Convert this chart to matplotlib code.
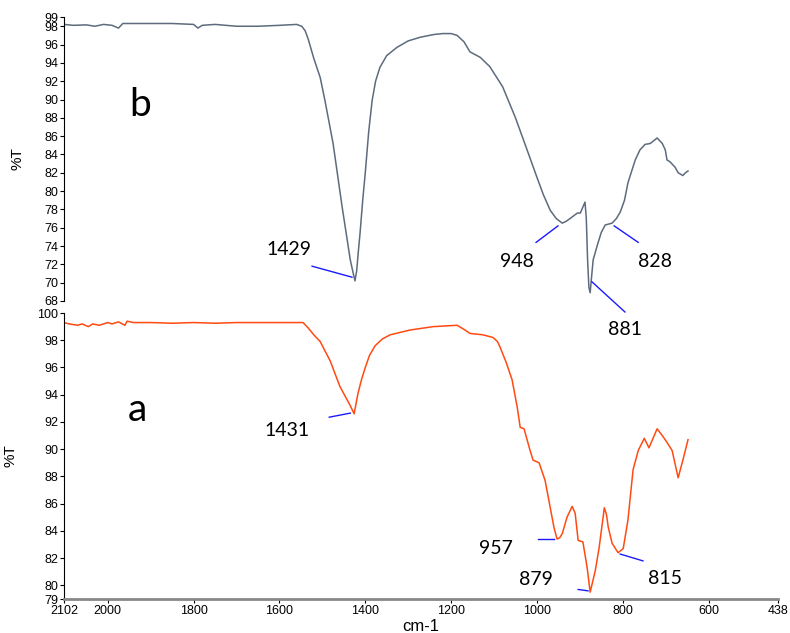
from matplotlib import pyplot as plt

# spectrum b (top)
wn_b = [2102, 2080, 2050, 2030, 2010, 1990, 1975, 1965, 1940, 1900, 1850, 1800, 1790, 1780,
        1750, 1700, 1650, 1600, 1560, 1548, 1540, 1533, 1520, 1505, 1494, 1475, 1454, 1435,
        1428, 1424, 1420, 1416, 1412, 1406, 1400, 1392, 1384, 1376, 1366, 1350, 1326, 1300,
        1272, 1240, 1219, 1200, 1186, 1170, 1156, 1132, 1110, 1080, 1050, 1023, 1000, 985,
        969, 955, 941, 932, 923, 906, 899, 888, 885, 882, 879, 876, 872, 869, 858, 850, 841,
        825, 815, 806, 796, 788, 771, 760, 748, 736, 720, 708, 701, 697, 690, 678, 671, 660,
        654, 648]
t_b = [98.2, 98.1, 98.15, 98.0, 98.2, 98.1, 97.8, 98.3, 98.3, 98.3, 98.3, 98.2, 97.8, 98.1,
       98.2, 98.0, 98.0, 98.1, 98.2, 98.0, 97.5, 96.6, 94.5, 92.4, 89.9, 85.2, 78.3, 72.5,
       71.0, 70.2, 71.3, 73.5, 75.5, 79.0, 82.0, 86.5, 89.9, 92.0, 93.5, 94.8, 95.7, 96.4,
       96.8, 97.1, 97.2, 97.2, 97.0, 96.3, 95.2, 94.6, 93.6, 91.4, 88.0, 84.5, 81.5, 79.6,
       77.9, 77.0, 76.5, 76.7, 77.0, 77.6, 77.6, 78.8, 77.0, 72.5, 69.5, 68.9, 71.0, 72.5,
       74.3, 75.5, 76.3, 76.5, 77.0, 77.7, 79.0, 80.9, 83.4, 84.5, 85.1, 85.2, 85.8, 85.2,
       84.5, 83.4, 83.2, 82.6, 82.0, 81.7, 82.0, 82.2]

# spectrum a (bottom)
wn_a = [2102, 2090, 2070, 2060, 2045, 2035, 2020, 2000, 1990, 1975, 1960, 1955, 1940, 1900,
        1850, 1800, 1750, 1700, 1650, 1600, 1545, 1533, 1520, 1505, 1482, 1459, 1435, 1426,
        1417, 1408, 1400, 1390, 1377, 1360, 1342, 1296, 1242, 1186, 1170, 1156, 1126, 1102,
        1092, 1086, 1072, 1058, 1046, 1039, 1030, 1016, 1009, 995, 981, 969, 960, 953, 947,
        941, 930, 918, 911, 904, 893, 883, 876, 870, 864, 855, 843, 838, 834, 825, 811, 799,
        788, 776, 764, 750, 739, 720, 708, 697, 685, 671, 660, 648]
t_a = [99.3, 99.2, 99.1, 99.2, 99.0, 99.2, 99.1, 99.3, 99.2, 99.35, 99.1, 99.4, 99.3, 99.3,
       99.25, 99.3, 99.25, 99.3, 99.3, 99.3, 99.3, 98.9, 98.4, 97.9, 96.5, 94.6, 93.2, 92.6,
       94.1, 95.2, 96.0, 96.9, 97.6, 98.1, 98.4, 98.75, 99.0, 99.1, 98.8, 98.5, 98.4, 98.2,
       97.9, 97.5, 96.4, 95.1, 93.1, 91.6, 91.5, 89.9, 89.2, 89.0, 87.7, 85.7, 84.2, 83.4,
       83.5, 83.8, 85.0, 85.8, 85.3, 83.3, 83.2, 81.3, 79.5, 80.3, 81.1, 82.8, 85.7, 85.2,
       84.3, 83.1, 82.4, 82.7, 84.8, 88.5, 89.9, 90.8, 90.1, 91.5, 91.0, 90.5, 89.9, 87.9,
       89.2, 90.7]

xticks = [2102, 2000, 1800, 1600, 1400, 1200, 1000, 800, 600, 438]
yticks_b = [68, 70, 72, 74, 76, 78, 80, 82, 84, 86, 88, 90, 92, 94, 96, 98, 99]
yticks_a = [79, 80, 82, 84, 86, 88, 90, 92, 94, 96, 98, 100]

# peak labels: (text, text x, text y, line start, line end)
labels_b = [("1429", 1578, 73.6, (1524, 71.8), (1431, 70.6)),
            ("948", 1046, 72.3, (1002, 74.4), (951, 76.2)),
            ("828", 725, 72.3, (820, 76.2), (764, 74.4)),
            ("881", 795, 64.9, (872, 70.1), (795, 66.8))]
labels_a = [("1431", 1582, 91.4, (1484, 92.35), (1435, 92.65)),
            ("957", 1095, 82.7, (997, 83.4), (960, 83.4)),
            ("879", 1002, 80.4, (904, 79.7), (881, 79.6)),
            ("815", 701, 80.5, (806, 82.3), (753, 81.8))]

plt.rcParams['font.family'] = ['Liberation Sans', 'DejaVu Sans']

fig = plt.figure(figsize=(7.9, 6.33), dpi=100)
ax_b = fig.add_axes([0.081, 0.5245, 0.904, 0.4485])
ax_a = fig.add_axes([0.081, 0.0537, 0.904, 0.4518])
ax_b.set_zorder(2)
ax_b.patch.set_alpha(0)

ax_b.plot(wn_b, t_b, color='#5d6b7d', lw=1.1)
ax_a.plot(wn_a, t_a, color='#ff4a12', lw=1.1)

for ax, yt in ((ax_b, yticks_b), (ax_a, yticks_a)):
    ax.set_xlim(2102, 438)
    ax.set_ylim(yt[0], yt[-1])
    ax.set_yticks(yt)
    ax.set_yticklabels([str(v) for v in yt], fontsize=9)
    ax.spines['top'].set_visible(False)
    ax.spines['right'].set_visible(False)
    ax.set_ylabel('%T', fontsize=11, labelpad=14)
    ax.tick_params(axis='y', length=3, width=0.8, pad=1)

ax_b.spines['bottom'].set_visible(False)
ax_b.set_xticks([])
ax_a.spines['bottom'].set_color('#888888')
ax_a.spines['bottom'].set_linewidth(2)
ax_a.set_xticks(xticks)
ax_a.set_xticklabels([str(v) for v in xticks], fontsize=9)
ax_a.tick_params(axis='x', length=3, width=0.8, pad=1)
ax_a.set_xlabel('cm-1', fontsize=12, labelpad=2)

for ax, labels in ((ax_b, labels_b), (ax_a, labels_a)):
    for txt, tx, ty, p0, p1 in labels:
        ax.plot([p0[0], p1[0]], [p0[1], p1[1]], color='#1a1aff', lw=1, clip_on=False)
        ax.text(tx, ty, txt, fontsize=14, family='Lato', ha='center', va='center', clip_on=False)

ax_b.text(1925, 89.4, 'b', fontsize=28, family='Lato', ha='center', va='center')
ax_a.text(1932, 92.9, 'a', fontsize=28, family='Lato', ha='center', va='center')

fig.savefig('out.png', dpi=100)
